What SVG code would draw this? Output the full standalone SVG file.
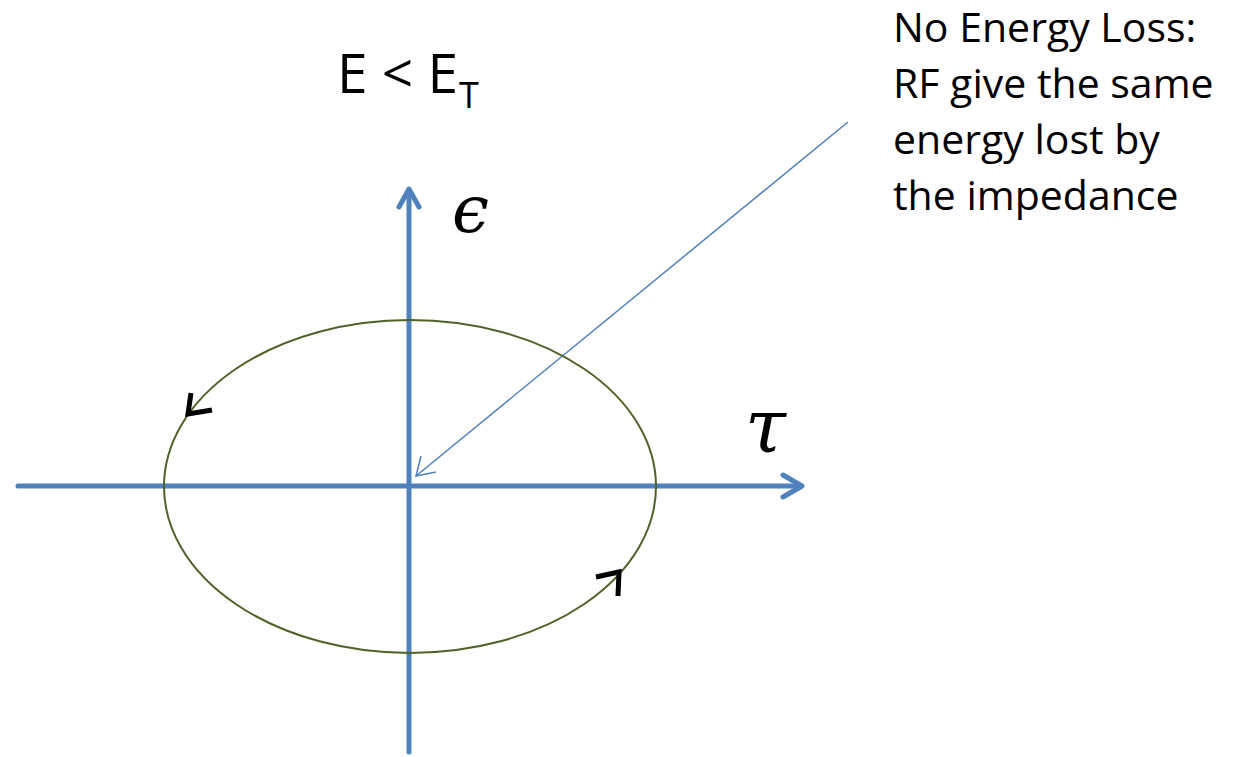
<svg xmlns="http://www.w3.org/2000/svg" width="1239" height="757" viewBox="0 0 1239 757">
<style>
.axis{stroke:#4F81BD;stroke-width:5;fill:none;stroke-linecap:round;stroke-linejoin:round}
.chev{stroke:#000;stroke-width:5;fill:none;stroke-linecap:butt;stroke-linejoin:miter}
.lbl{font-family:"Open Sans","Liberation Sans",sans-serif;fill:#000}
.math{font-family:"DejaVu Serif","Liberation Serif",serif;fill:#000}
</style>
<rect width="1239" height="757" fill="#fff"/>
<g id="connectors">
<line class="axis" x1="18" y1="486" x2="801" y2="486"/>
<polyline class="axis" points="783,475 802,486 783,497"/>
<line class="axis" x1="409" y1="752" x2="409" y2="190"/>
<polyline class="axis" points="399,207 409,189 419,207"/>
<line x1="848" y1="122" x2="416" y2="476" stroke="#4F81BD" stroke-width="1.5"/>
<polyline points="421,456 416,476 436,472" fill="none" stroke="#4F81BD" stroke-width="1.5"/>
</g>
<g id="orbit">
<ellipse cx="410" cy="486.5" rx="246" ry="166.5" fill="none" stroke="#4F6228" stroke-width="2"/>
<polyline class="chev" points="191,393 188,414 212,410"/>
<polyline class="chev" points="596,577 619,572 618,596"/>
</g>
<g id="title">
<text class="lbl" x="337" y="93" font-size="55">E &lt; E</text>
<text class="lbl" x="459" y="108" font-size="36">T</text>
</g>
<g id="eps">
<text class="math" x="452" y="232" font-size="66" font-style="italic">ϵ</text>
</g>
<g id="tau">
<text class="math" x="745" y="452" font-size="74" font-style="italic">τ</text>
</g>
<g id="note">
<text class="lbl" font-size="41">
<tspan x="893" y="42">No Energy Loss:</tspan>
<tspan x="893" y="98">RF give the same</tspan>
<tspan x="893" y="154">energy lost by</tspan>
<tspan x="893" y="210">the impedance</tspan>
</text>
</g>
</svg>
